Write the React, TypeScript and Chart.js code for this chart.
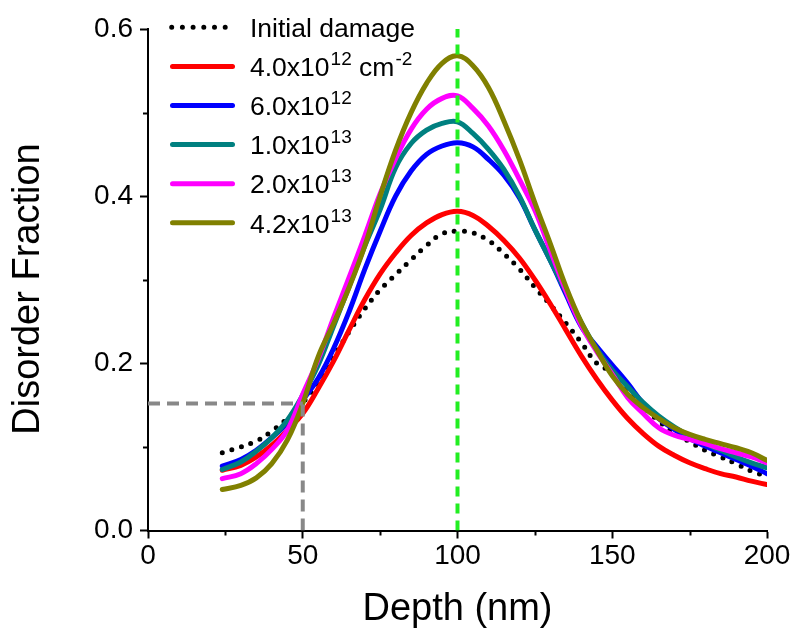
import { useEffect, useRef } from 'react';
import { Chart, registerables } from 'chart.js';

Chart.register(...registerables);

// ---------------- data ----------------
const depth = [24, 30, 35, 40, 45, 50, 55, 60, 65, 70, 75, 80, 85, 90, 95, 100, 105, 110, 115, 120, 125, 130, 135, 140, 145, 150, 155, 160, 165, 170, 175, 180, 185, 190, 195, 200];

const initialDamage = [0.093, 0.100, 0.107, 0.119, 0.134, 0.153, 0.178, 0.208, 0.238, 0.265, 0.288, 0.306, 0.324, 0.341, 0.355, 0.358, 0.356, 0.347, 0.331, 0.313, 0.291, 0.270, 0.248, 0.225, 0.200, 0.189, 0.168, 0.148, 0.131, 0.117, 0.106, 0.096, 0.088, 0.080, 0.071, 0.065];
const dose4e12 = [0.072, 0.078, 0.088, 0.102, 0.120, 0.140, 0.170, 0.203, 0.240, 0.276, 0.307, 0.332, 0.353, 0.368, 0.378, 0.382, 0.377, 0.364, 0.347, 0.326, 0.300, 0.271, 0.240, 0.209, 0.181, 0.156, 0.134, 0.116, 0.101, 0.090, 0.081, 0.074, 0.068, 0.064, 0.059, 0.055];
const dose6e12 = [0.077, 0.085, 0.096, 0.111, 0.129, 0.156, 0.182, 0.218, 0.262, 0.312, 0.358, 0.400, 0.430, 0.450, 0.460, 0.464, 0.459, 0.444, 0.425, 0.398, 0.360, 0.323, 0.283, 0.244, 0.220, 0.198, 0.176, 0.152, 0.134, 0.121, 0.110, 0.101, 0.093, 0.085, 0.077, 0.068];
const dose1e13 = [0.073, 0.082, 0.095, 0.111, 0.132, 0.162, 0.198, 0.245, 0.292, 0.340, 0.384, 0.434, 0.463, 0.479, 0.487, 0.489, 0.475, 0.456, 0.432, 0.400, 0.360, 0.323, 0.286, 0.249, 0.217, 0.192, 0.172, 0.153, 0.137, 0.124, 0.113, 0.104, 0.096, 0.088, 0.081, 0.075];
const dose2e13 = [0.062, 0.068, 0.080, 0.097, 0.120, 0.163, 0.205, 0.255, 0.303, 0.352, 0.403, 0.445, 0.480, 0.504, 0.517, 0.520, 0.505, 0.484, 0.455, 0.420, 0.383, 0.335, 0.287, 0.245, 0.214, 0.187, 0.159, 0.140, 0.123, 0.114, 0.109, 0.104, 0.098, 0.093, 0.088, 0.081];
const dose42e13 = [0.049, 0.054, 0.063, 0.080, 0.108, 0.152, 0.208, 0.248, 0.291, 0.340, 0.400, 0.455, 0.500, 0.535, 0.559, 0.568, 0.556, 0.530, 0.490, 0.444, 0.392, 0.343, 0.292, 0.249, 0.216, 0.185, 0.163, 0.147, 0.134, 0.123, 0.115, 0.109, 0.104, 0.099, 0.093, 0.084];

const seriesLabels = ['Initial damage', '4.0x10^{12} cm^{-2}', '6.0x10^{12}', '1.0x10^{13}', '2.0x10^{13}', '4.2x10^{13}'];
const seriesValues = [initialDamage, dose4e12, dose6e12, dose1e13, dose2e13, dose42e13];
const seriesColors = ['#000000', '#ff0000', '#0000ff', '#008080', '#ff00ff', '#808000'];

// guide lines
const markerDepth = 50;
const markerFraction = 0.152;
const peakDepth = 100;

// axes
const xMin = 0;
const xMax = 200;
const yMin = 0;
const yMax = 0.6;
const xTickStep = 25;
const yTickStep = 0.1;
const xTickLabels = ['0', '50', '100', '150', '200'];
const yTickLabels = ['0.0', '0.2', '0.4', '0.6'];
const xTitle = 'Depth (nm)';
const yTitle = 'Disorder Fraction';

const FONT = "'Liberation Sans', Arial, Helvetica, sans-serif";

const xLabelOf = (v: number) => String(Math.round(v));
const yLabelOf = (v: number) => (Math.round(v * 10) / 10).toFixed(1);
const isMajorX = (v: number) => xTickLabels.includes(xLabelOf(v));
const isMajorY = (v: number) => yTickLabels.includes(yLabelOf(v));

function drawRich(ctx: CanvasRenderingContext2D, text: string, x: number, baseline: number) {
  const parts = text.split(/(\^\{[^}]*\})/);
  let cx = x;
  for (const p of parts) {
    if (!p) continue;
    if (p.startsWith('^{')) {
      const s = p.slice(2, -1);
      ctx.font = `19px ${FONT}`;
      ctx.fillText(s, cx + 1, baseline - 11);
      cx += ctx.measureText(s).width + 1;
    } else {
      ctx.font = `26.5px ${FONT}`;
      ctx.fillText(p, cx, baseline);
      cx += ctx.measureText(p).width;
    }
  }
}

const minorTicksPlugin = {
  id: 'minorTicks',
  afterDraw(chart: any) {
    const { ctx, chartArea } = chart;
    const xs = chart.scales.x;
    const ys = chart.scales.y;
    ctx.save();
    ctx.strokeStyle = '#000';
    ctx.lineWidth = 2;
    xs.ticks.forEach((t: any) => {
      if (isMajorX(t.value)) return;
      const px = Math.round(xs.getPixelForValue(t.value)) + 0.5;
      ctx.beginPath();
      ctx.moveTo(px, chartArea.bottom);
      ctx.lineTo(px, chartArea.bottom + 5);
      ctx.stroke();
    });
    ys.ticks.forEach((t: any) => {
      if (isMajorY(t.value)) return;
      const py = Math.round(ys.getPixelForValue(t.value)) + 0.5;
      ctx.beginPath();
      ctx.moveTo(chartArea.left, py);
      ctx.lineTo(chartArea.left - 5, py);
      ctx.stroke();
    });
    ctx.restore();
  },
};

const yTitlePlugin = {
  id: 'yTitle',
  afterDraw(chart: any) {
    const ctx: CanvasRenderingContext2D = chart.ctx;
    ctx.save();
    ctx.translate(29, 289);
    ctx.rotate(-Math.PI / 2);
    ctx.font = `38px ${FONT}`;
    ctx.fillStyle = '#000';
    ctx.textAlign = 'center';
    ctx.textBaseline = 'middle';
    ctx.fillText(yTitle, 0, 0);
    ctx.restore();
  },
};

const legendPlugin = {
  id: 'richLegend',
  afterDraw(chart: any) {
    const ctx: CanvasRenderingContext2D = chart.ctx;
    const rowTop = 27.3;
    const rowGap = 39.1;
    ctx.save();
    seriesLabels.forEach((label, i) => {
      const y = rowTop + i * rowGap;
      ctx.strokeStyle = seriesColors[i];
      ctx.lineCap = 'round';
      ctx.lineWidth = 5;
      ctx.beginPath();
      if (i === 0) {
        ctx.setLineDash([0, 10.7]);
        ctx.moveTo(171.7, y);
        ctx.lineTo(226, y);
      } else {
        ctx.setLineDash([]);
        ctx.moveTo(172.5, y);
        ctx.lineTo(232.5, y);
      }
      ctx.stroke();
      ctx.setLineDash([]);
      ctx.fillStyle = '#000';
      ctx.textBaseline = 'alphabetic';
      ctx.textAlign = 'left';
      drawRich(ctx, label, 250, y + 9.7);
    });
    ctx.restore();
  },
};

export default function App() {
  const ref = useRef<HTMLCanvasElement | null>(null);

  useEffect(() => {
    if (!ref.current) return;

    const curveSets = seriesValues.map((vals, i) => ({
      label: seriesLabels[i].replace(/\^\{([^}]*)\}/g, '^$1'),
      data: depth.map((d, k) => ({ x: d, y: vals[k] })),
      borderColor: seriesColors[i],
      backgroundColor: seriesColors[i],
      borderWidth: 5,
      borderDash: i === 0 ? [0, 10] : [],
      borderCapStyle: 'round' as const,
      borderJoinStyle: 'round' as const,
      tension: 0.4,
      pointRadius: 0,
      fill: false,
      order: 6 - i,
    }));

    const guideSets = [
      {
        label: 'guide-h',
        data: [{ x: xMin, y: markerFraction }, { x: markerDepth, y: markerFraction }],
        borderColor: '#888888',
        borderWidth: 4,
        borderDash: [12, 7],
        pointRadius: 0,
        tension: 0,
        order: 0,
      },
      {
        label: 'guide-v',
        data: [{ x: markerDepth, y: yMin }, { x: markerDepth, y: markerFraction }],
        borderColor: '#888888',
        borderWidth: 4,
        borderDash: [12, 7],
        pointRadius: 0,
        tension: 0,
        order: 0,
      },
      {
        label: 'peak',
        data: [{ x: peakDepth, y: yMin }, { x: peakDepth, y: yMax }],
        borderColor: '#22ee22',
        borderWidth: 4,
        borderDash: [10, 7],
        pointRadius: 0,
        tension: 0,
        order: 0,
      },
    ];

    const chart = new Chart(ref.current, {
      type: 'line',
      data: { datasets: [...curveSets, ...guideSets] as any },
      options: {
        animation: false,
        responsive: false,
        devicePixelRatio: 1,
        layout: { padding: { top: 29, right: 28, bottom: 0, left: 0 } },
        plugins: { legend: { display: false }, tooltip: { enabled: false } },
        elements: { point: { radius: 0 } },
        scales: {
          x: {
            type: 'linear',
            min: xMin,
            max: xMax,
            afterFit: (s: any) => { s.height = 105.5; },
            ticks: {
              stepSize: xTickStep,
              autoSkip: false,
              maxRotation: 0,
              color: '#000',
              padding: 1,
              font: { family: FONT, size: 28 },
              callback: (v: any) => (isMajorX(Number(v)) ? xLabelOf(Number(v)) : ''),
            },
            grid: {
              drawOnChartArea: false,
              tickLength: 8,
              tickWidth: 2,
              tickColor: (c: any) => (c.tick && isMajorX(c.tick.value) ? '#000' : 'rgba(0,0,0,0)'),
            },
            border: { color: '#000', width: 2 },
            title: {
              display: true,
              text: xTitle,
              color: '#000',
              font: { family: FONT, size: 38 },
              padding: { top: 0, bottom: 4 },
            },
          },
          y: {
            type: 'linear',
            min: yMin,
            max: yMax,
            afterFit: (s: any) => { s.width = 148; },
            ticks: {
              stepSize: yTickStep,
              autoSkip: false,
              color: '#000',
              padding: 7,
              font: { family: FONT, size: 28 },
              callback: (v: any) => (isMajorY(Number(v)) ? yLabelOf(Number(v)) : ''),
            },
            grid: {
              drawOnChartArea: false,
              tickLength: 8,
              tickWidth: 2,
              tickColor: (c: any) => (c.tick && isMajorY(c.tick.value) ? '#000' : 'rgba(0,0,0,0)'),
            },
            border: { color: '#000', width: 2 },
            title: { display: false },
          },
        },
      },
      plugins: [minorTicksPlugin, legendPlugin, yTitlePlugin],
    });

    return () => chart.destroy();
  }, []);

  return (
    <div style={{ position: 'absolute', left: 0, top: 0, width: 795, height: 636, background: '#fff' }}>
      <canvas ref={ref} width={795} height={636} style={{ display: 'block', width: 795, height: 636 }} />
    </div>
  );
}
